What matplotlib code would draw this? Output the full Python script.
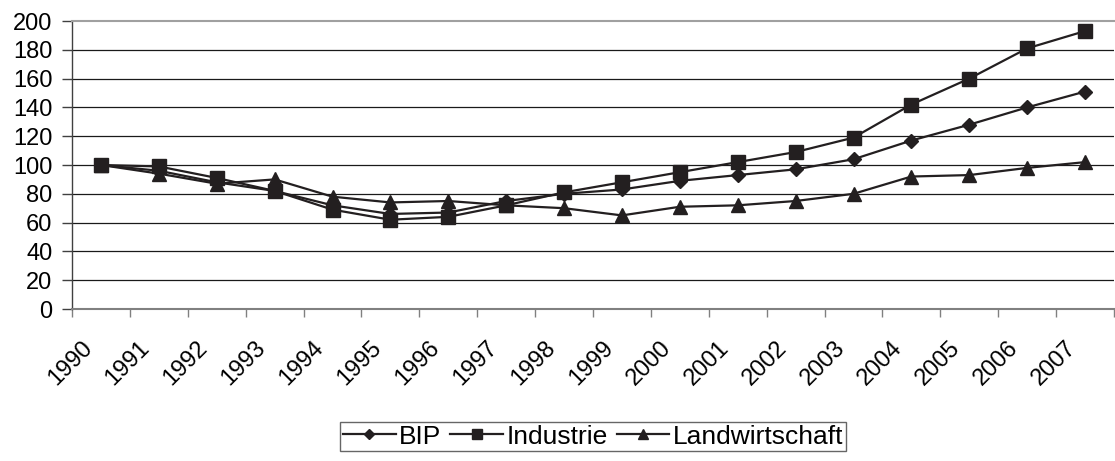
import matplotlib
matplotlib.use("Agg")
import matplotlib.pyplot as plt
from matplotlib.transforms import ScaledTranslation
import numpy as np

plt.rcParams['font.family'] = ['Liberation Sans', 'DejaVu Sans']

# Daten (Index, 1990 = 100)
jahre = [str(j) for j in range(1990, 2008)]
bip = [100, 96, 88, 82, 72, 66, 67, 75, 80, 83, 89, 93, 97, 104, 117, 128, 140, 151]
industrie = [100, 99, 91, 82, 69, 62, 64, 72, 81, 88, 95, 102, 109, 119, 142, 160, 181, 193]
landwirtschaft = [100, 94, 87, 90, 78, 74, 75, 72, 70, 65, 71, 72, 75, 80, 92, 93, 98, 102]

farbe = '#231f20'

fig = plt.figure(figsize=(11.15, 4.61), dpi=100)
ax = fig.add_axes([72/1115, 1 - 309/461, (1114-72)/1115, (309-21)/461])

x = np.arange(len(jahre))
ax.plot(x, bip, color=farbe, lw=1.6, marker='D', ms=7, label='BIP', zorder=3)
ax.plot(x, industrie, color=farbe, lw=1.6, marker='s', ms=9.5, label='Industrie', zorder=3)
ax.plot(x, landwirtschaft, color=farbe, lw=1.6, marker='^', ms=10.5, label='Landwirtschaft', zorder=3)

ax.set_xlim(-0.5, len(jahre) - 0.5)
ax.set_ylim(0, 200)
ax.set_yticks(range(0, 201, 20))
for yy in range(20, 200, 20):
    ax.axhline(yy, color='#1a1a1a', lw=0.9, zorder=1)

# Kategorie-Trennstriche unten, Beschriftung in der Mitte
ax.set_xticks(np.arange(-0.5, len(jahre), 1.0), minor=True)
ax.set_xticks(x)
ax.set_xticklabels(jahre, rotation=45, ha='right', va='top', rotation_mode='anchor')
ax.tick_params(axis='x', which='major', length=0, pad=20, labelsize=17)
ax.tick_params(axis='x', which='minor', length=5.5, width=1, color='#808080', direction='out')
ax.tick_params(axis='y', length=7, width=1, color='#404040', pad=7, labelsize=17)
for lbl in ax.get_xticklabels():
    lbl.set_transform(lbl.get_transform() + ScaledTranslation(-0.20, 0, fig.dpi_scale_trans))

ax.spines['right'].set_visible(False)
ax.spines['top'].set_color('#a0a0a0')
ax.spines['top'].set_linewidth(1.5)
ax.spines['bottom'].set_color('#808080')
ax.spines['bottom'].set_linewidth(1.5)
ax.spines['left'].set_color('#404040')
ax.spines['left'].set_linewidth(1)

leg = fig.legend(loc='upper center', bbox_to_anchor=(593/1115, 1 - 422/461), ncol=3,
                 fontsize=19, frameon=True, fancybox=False, handlelength=2.0,
                 handletextpad=0.12, columnspacing=0.35, borderpad=0.1,
                 borderaxespad=0, markerscale=0.75)
leg.get_frame().set_edgecolor('#404040')
leg.get_frame().set_linewidth(1)

fig.savefig('out.png', dpi=100)
